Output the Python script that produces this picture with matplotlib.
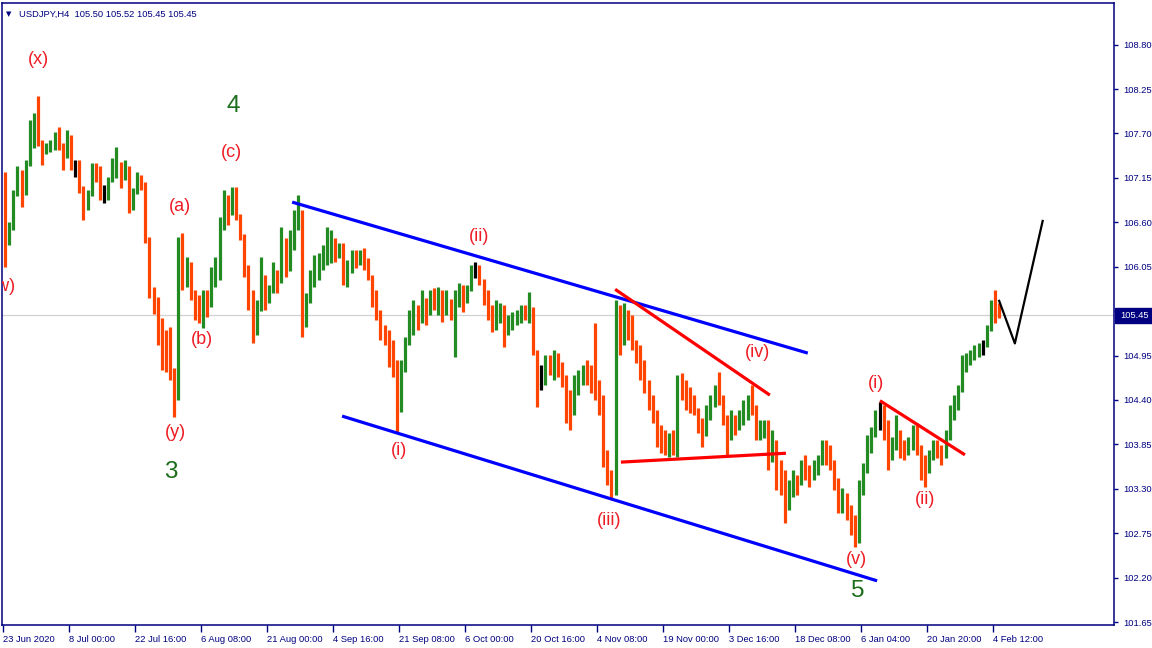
import numpy as np
import matplotlib
matplotlib.use("Agg")
import matplotlib.pyplot as plt
from matplotlib import font_manager as fm
from matplotlib.patches import Rectangle

# ---------------- data (each bar = 4 H4 candles of USDJPY) ----------------
open_first = 107.15
highs = [107.22,106.60,107.00,107.30,107.25,107.37,107.87,107.95,108.16,107.62,
         107.58,107.62,107.72,107.78,107.58,107.74,107.53,107.37,107.37,106.94,
         107.00,107.33,107.33,107.30,107.06,107.16,107.40,107.53,107.33,107.37,
         107.30,107.03,107.22,107.18,106.90,106.42,105.80,105.67,105.41,105.27,
         105.30,104.77,106.42,106.47,106.17,106.11,105.76,105.70,105.76,105.76,
         106.05,106.17,106.67,107.00,106.94,107.04,107.04,106.69,106.38,106.07,
         105.76,105.64,106.17,105.95,105.82,106.11,106.01,106.54,106.38,106.50,
         106.75,106.94,106.72,105.72,106.01,106.20,106.22,106.32,106.54,106.50,
         106.38,106.34,106.34,106.13,106.26,106.26,106.26,106.28,106.16,105.92,
         105.76,105.51,105.33,105.27,105.14,104.89,104.89,105.18,105.51,105.64,
         105.57,105.76,105.66,105.76,105.79,105.80,105.76,105.76,105.64,105.76,
         105.85,105.82,105.82,106.07,106.11,106.07,105.89,105.76,105.57,105.64,
         105.60,105.57,105.45,105.49,105.51,105.57,105.57,105.74,105.47,105.02,
         104.83,104.96,104.96,105.02,104.98,104.87,104.71,104.52,104.71,104.77,
         104.83,104.89,104.83,105.35,104.65,104.46,103.78,103.53,105.64,105.57,
         105.60,105.51,105.45,105.14,105.08,104.89,104.65,104.46,104.28,104.09,
         104.03,103.99,104.03,104.71,104.73,104.65,104.56,104.46,104.28,104.18,
         104.34,104.46,104.58,104.75,104.46,104.21,104.28,104.21,104.28,104.40,
         104.46,104.58,104.34,104.15,104.15,104.15,104.03,103.90,103.66,103.53,
         103.41,103.53,103.47,103.66,103.72,103.59,103.66,103.72,103.90,103.90,
         103.84,103.66,103.43,103.31,103.25,103.10,102.98,103.41,103.62,103.97,
         104.06,104.28,104.38,104.34,104.15,103.94,104.21,104.03,103.90,103.94,
         104.09,104.11,103.84,103.72,103.78,103.90,103.90,103.84,104.03,104.34,
         104.46,104.58,104.96,104.98,105.02,105.08,105.10,105.14,105.33,105.64,
         105.76,105.60]
lows = [106.05,106.32,106.50,107.06,106.79,106.94,107.32,107.52,107.55,107.31,
        107.45,107.47,107.50,107.50,107.25,107.47,107.25,107.16,106.96,106.63,
        106.84,107.06,107.10,106.88,106.84,106.88,107.10,107.15,107.03,107.12,
        106.71,106.75,107.00,107.00,106.34,105.66,105.47,105.08,104.77,104.75,
        104.65,104.19,104.40,105.76,105.80,105.64,105.39,105.35,105.29,105.43,
        105.64,105.80,105.89,106.50,106.57,106.69,106.63,106.38,105.92,105.51,
        105.10,105.20,105.72,105.51,105.60,105.76,105.72,106.07,105.92,106.01,
        106.26,106.50,105.18,105.30,105.60,105.80,105.89,106.01,106.07,106.09,
        106.11,106.16,105.82,105.80,105.97,106.03,106.07,106.01,105.89,105.55,
        105.39,105.14,105.08,104.81,104.68,104.00,104.34,104.83,105.08,105.20,
        105.27,105.35,105.33,105.45,105.51,105.45,105.37,105.45,105.39,104.93,
        105.55,105.49,105.64,105.76,105.91,105.82,105.58,105.39,105.24,105.27,
        105.35,105.06,105.20,105.27,105.33,105.35,105.39,105.35,104.96,104.31,
        104.52,104.58,104.71,104.65,104.68,104.56,104.11,104.03,104.21,104.46,
        104.58,104.58,104.48,104.40,104.21,103.57,103.35,103.19,103.22,104.96,
        105.08,105.14,105.02,104.86,104.65,104.48,104.28,104.11,103.82,103.74,
        103.72,103.69,103.72,103.69,104.40,104.28,104.24,104.21,103.99,103.82,
        104.03,104.15,104.31,104.34,104.09,103.69,103.94,103.96,104.03,104.09,
        104.15,104.21,103.90,103.90,103.93,103.53,103.63,103.28,103.22,102.88,
        103.04,103.28,103.22,103.35,103.41,103.32,103.41,103.47,103.59,103.59,
        103.53,103.28,103.00,103.00,102.91,102.73,102.58,102.63,103.22,103.50,
        103.74,103.94,104.03,103.90,103.53,103.66,103.78,103.68,103.66,103.72,
        103.78,103.72,103.41,103.32,103.53,103.66,103.68,103.59,103.68,103.90,
        104.15,104.28,104.52,104.75,104.83,104.89,104.93,104.96,105.08,105.33,
        105.35,105.42]
closes = [106.50,106.55,106.92,107.18,106.95,107.30,107.80,107.85,107.60,107.45,
          107.50,107.55,107.68,107.55,107.40,107.68,107.30,107.30,107.05,106.75,
          106.92,107.25,107.20,106.95,106.95,107.10,107.30,107.35,107.15,107.30,
          106.80,106.95,107.15,107.10,106.40,105.75,105.55,105.20,104.95,104.90,
          104.80,104.40,105.95,105.85,106.05,105.70,105.50,105.45,105.60,105.55,
          105.95,106.00,106.55,106.85,106.75,106.95,106.70,106.45,106.05,105.70,
          105.30,105.50,105.90,105.60,105.72,105.90,105.85,106.40,106.00,106.30,
          106.60,106.75,105.40,105.60,105.90,106.00,106.10,106.25,106.30,106.40,
          106.20,106.28,105.95,106.05,106.20,106.10,106.22,106.15,105.95,105.68,
          105.50,105.25,105.15,104.90,104.85,104.25,104.75,105.10,105.35,105.45,
          105.40,105.55,105.45,105.65,105.60,105.70,105.45,105.65,105.45,105.55,
          105.75,105.60,105.75,106.00,106.00,105.90,105.65,105.45,105.35,105.45,
          105.50,105.30,105.35,105.40,105.45,105.50,105.45,105.55,105.00,104.70,
          104.70,104.85,104.80,104.90,104.75,104.65,104.40,104.30,104.60,104.65,
          104.75,104.70,104.60,104.50,104.30,103.75,103.45,103.40,105.30,105.10,
          105.40,105.25,105.10,104.95,104.75,104.55,104.40,104.25,103.95,103.85,
          103.80,103.85,103.78,104.55,104.50,104.45,104.35,104.30,104.05,103.95,
          104.25,104.40,104.50,104.40,104.15,103.90,104.10,104.05,104.20,104.30,
          104.40,104.30,104.00,104.05,104.10,103.70,103.80,103.40,103.35,103.10,
          103.20,103.40,103.35,103.55,103.50,103.45,103.60,103.65,103.75,103.70,
          103.60,103.40,103.15,103.25,103.05,102.90,102.75,103.30,103.55,103.85,
          103.95,104.20,104.20,104.05,103.70,103.80,104.00,103.80,103.75,103.85,
          103.95,103.80,103.55,103.50,103.70,103.85,103.80,103.70,103.95,104.25,
          104.35,104.50,104.85,104.90,104.95,105.00,105.05,105.05,105.25,105.55,
          105.50,105.45]

date_labels = ["23 Jun 2020", "8 Jul 00:00", "22 Jul 16:00", "6 Aug 08:00",
               "21 Aug 00:00", "4 Sep 16:00", "21 Sep 08:00", "6 Oct 00:00",
               "20 Oct 16:00", "4 Nov 08:00", "19 Nov 00:00", "3 Dec 16:00",
               "18 Dec 08:00", "6 Jan 04:00", "20 Jan 20:00", "4 Feb 12:00"]
price_ticks = [101.65, 102.20, 102.75, 103.30, 103.85, 104.40, 104.95, 105.50,
               106.05, 106.60, 107.15, 107.70, 108.25, 108.80]
hidden_tick = 105.50   # covered by the current-price box in the reference
last_price = 105.45
title_text = "USDJPY,H4  105.50 105.52 105.45 105.45"

# trend lines: (bar index, price) anchors
upper_channel = [(69.6, 106.85), (194.6, 104.98)]
lower_channel = [(81.7, 104.20), (211.4, 102.16)]
wedge_top = [(147.9, 105.77), (185.4, 104.46)]
wedge_base = [(149.3, 103.63), (189.3, 103.74)]
wave_ii_line = [(212.1, 104.39), (232.7, 103.72)]
projection = [(240.9, 105.64), (244.8, 105.10), (251.6, 106.63)]

# wave labels: (text, bar index, price, kind)
wave_labels = [("(x)", 8.0, 108.62, "minor"), ("4", 55.3, 108.04, "major"),
               ("(c)", 54.8, 107.47, "minor"), ("(a)", 42.4, 106.79, "minor"),
               ("(w)", -0.5, 105.81, "minor"), ("(b)", 47.7, 105.15, "minor"),
               ("(y)", 41.2, 104.00, "minor"), ("3", 40.2, 103.51, "major"),
               ("(ii)", 114.9, 106.42, "minor"), ("(i)", 95.5, 103.77, "minor"),
               ("(iii)", 146.4, 102.91, "minor"), ("(iv)", 182.3, 104.99, "minor"),
               ("(v)", 206.5, 102.43, "minor"), ("5", 206.8, 102.03, "major"),
               ("(i)", 211.1, 104.60, "minor"), ("(ii)", 223.0, 103.17, "minor")]

# ---------------- fonts ----------------
def has_font(name):
    try:
        fm.findfont(fm.FontProperties(family=name), fallback_to_default=False)
        return True
    except Exception:
        return False

if has_font("Liberation Sans Narrow"):
    FONT, SCALE = "Liberation Sans Narrow", 1.0
else:
    FONT, SCALE = "Liberation Sans", 0.84

NAVY = "#000080"
UP = "#228B22"
DOWN = "#FF4500"
RED_TXT = "#ee1c24"
GREEN_TXT = "#1c6e1c"

W, H = 1152, 648
fig = plt.figure(figsize=(W / 100, H / 100), dpi=100)
fig.patch.set_facecolor("white")
L, R, T, B = 2, 1114, 3, 625
ax = fig.add_axes([L / W, 1 - B / H, (R - L) / W, (B - T) / H])

px_per_bar = 4.125
x0 = -0.742
ax.set_xlim(x0, x0 + (R - L) / px_per_bar)
ppu = 80.75
ax.set_ylim(101.65 - (B - 622) / ppu, 101.65 + (622 - T) / ppu)

o = np.array([open_first] + closes[:-1])
c = np.array(closes)
hi = np.maximum(np.array(highs), np.maximum(o, c))
lo = np.minimum(np.array(lows), np.minimum(o, c))
xs = np.arange(len(c))
cols = [UP if cc > oo else (DOWN if cc < oo else "black") for oo, cc in zip(o, c)]

ax.axhline(last_price, color="#d0d0d0", lw=0.9, zorder=0.5)
ax.vlines(xs, lo, hi, colors=cols, linewidth=2.3, zorder=2)

def seg(pts, color, lw):
    px = [p[0] for p in pts]
    py = [p[1] for p in pts]
    ax.plot(px, py, color=color, lw=lw, solid_capstyle="butt", zorder=3)

seg(upper_channel, "#0000ff", 2.3)
seg(lower_channel, "#0000ff", 2.3)
seg(wedge_top, "#ff0000", 2.3)
seg(wedge_base, "#ff0000", 2.3)
seg(wave_ii_line, "#ff0000", 2.3)
seg(projection, "black", 1.6)

for s, xi, yi, kind in wave_labels:
    if kind == "major":
        ax.text(xi, yi, s, color=GREEN_TXT, fontsize=17.5, family=FONT,
                ha="center", va="center", zorder=4, clip_on=True)
    else:
        ax.text(xi, yi, s, color=RED_TXT, fontsize=13, family=FONT,
                ha="center", va="center", zorder=4, clip_on=True)

# axes styling
for sp in ax.spines.values():
    sp.set_color(NAVY)
    sp.set_linewidth(1.1)
ax.yaxis.tick_right()
ax.set_yticks(price_ticks)
ax.set_yticklabels(["" if abs(v - hidden_tick) < 1e-9 else f"{v:.2f}"
                    for v in price_ticks])
ax.set_xticks([16 * j - 0.5 for j in range(len(date_labels))])
ax.set_xticklabels(date_labels)
ax.tick_params(axis="y", length=3, width=1, color=NAVY, labelcolor=NAVY,
               labelsize=8 * SCALE, pad=4, direction="out")
ax.tick_params(axis="x", length=5, width=1, color=NAVY, labelcolor=NAVY,
               labelsize=8 * SCALE, pad=2, direction="out")
for lab in ax.get_xticklabels():
    lab.set_ha("left")
    lab.set_family(FONT)
for lab in ax.get_yticklabels():
    lab.set_family(FONT)

# title and current price box
fig.text(9 / W, 1 - 14 / H, "\u25bc", family="DejaVu Sans", fontsize=5,
         color=NAVY, ha="center", va="center")
fig.text(19 / W, 1 - 14 / H, title_text, family=FONT, fontsize=8 * SCALE,
         color=NAVY, ha="left", va="center")
fig.patches.append(Rectangle((1115 / W, 1 - 323 / H), 37 / W, 15 / H,
                             transform=fig.transFigure, facecolor=NAVY,
                             edgecolor=NAVY, zorder=5))
fig.text(1120 / W, 1 - 315.5 / H, f"{last_price:.2f}", family=FONT,
         fontsize=8 * SCALE, color="white", ha="left", va="center", zorder=6)

fig.savefig("out.png", dpi=100, facecolor="white")
